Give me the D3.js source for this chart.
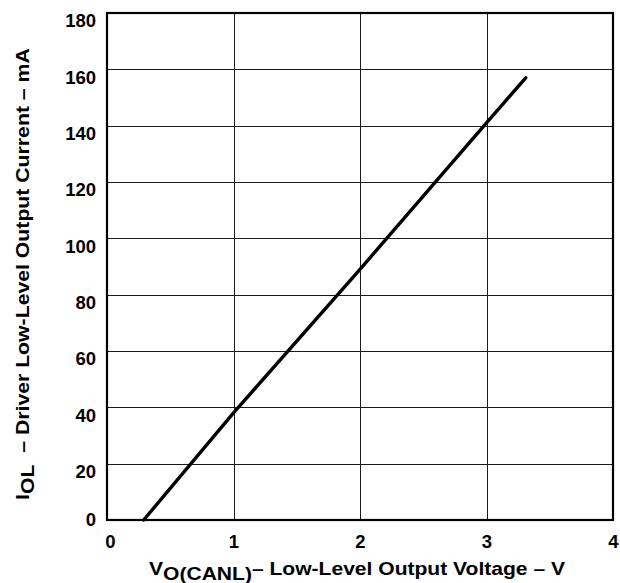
<!DOCTYPE html>
<html>
<head>
<meta charset="utf-8">
<script src="https://cdn.jsdelivr.net/npm/d3@7"></script>
<style>
  html, body { margin: 0; padding: 0; background: #fff; }
  svg { display: block; }
  text { font-family: "Liberation Sans", Arial, Helvetica, sans-serif; font-weight: bold; fill: #000; }
</style>
</head>
<body>
<svg id="chart" width="620" height="583"></svg>
<script>
// ---- data ----
const voltage = [0.29, 1.0, 2.0, 3.0, 3.31];        // V_O(CANL), V
const current = [0, 38, 89, 141, 157];              // I_OL, mA
const xTicks = [0, 1, 2, 3, 4];
const yTicks = [0, 20, 40, 60, 80, 100, 120, 140, 160, 180];
const xDomain = [0, 4];
const yDomain = [0, 180];

// ---- layout ----
const svg = d3.select("#chart");
const pLeft = 107, pRight = 613, pTop = 13, pBottom = 520;

const x = d3.scaleLinear().domain(xDomain).range([pLeft, pRight]);
const y = d3.scaleLinear().domain(yDomain).range([pBottom, pTop]);

// grid
const grid = svg.append("g");
grid.selectAll("line.v").data(xTicks.slice(1, -1)).join("line")
  .attr("x1", d => Math.round(x(d)) + 0.5).attr("x2", d => Math.round(x(d)) + 0.5)
  .attr("y1", pTop).attr("y2", pBottom)
  .attr("stroke", "#1a1a1a").attr("stroke-width", 1);
grid.selectAll("line.h").data(yTicks.slice(1, -1)).join("line")
  .attr("y1", d => Math.round(y(d)) + 0.5).attr("y2", d => Math.round(y(d)) + 0.5)
  .attr("x1", pLeft).attr("x2", pRight)
  .attr("stroke", "#1a1a1a").attr("stroke-width", 1);

// frame
svg.append("rect")
  .attr("x", pLeft).attr("y", pTop)
  .attr("width", pRight - pLeft).attr("height", pBottom - pTop)
  .attr("fill", "none").attr("stroke", "#000").attr("stroke-width", 2.2);

// axes labels via d3 axes (no domain / tick lines)
const yAxis = svg.append("g")
  .attr("transform", `translate(${pLeft},0)`)
  .call(d3.axisLeft(y).tickValues(yTicks).tickSize(0).tickPadding(11).tickFormat(d3.format("d")));
yAxis.select(".domain").remove();
yAxis.selectAll("text")
  .attr("font-size", 18.5)
  .attr("font-family", "Liberation Sans, Arial, sans-serif")
  .attr("font-weight", "bold")
  .attr("dy", d => d === 0 ? "0.3em" : "0.75em");

const xAxis = svg.append("g")
  .attr("transform", `translate(0,${pBottom})`)
  .call(d3.axisBottom(x).tickValues(xTicks).tickSize(0).tickPadding(15).tickFormat(d3.format("d")));
xAxis.select(".domain").remove();
xAxis.selectAll("text")
  .attr("font-size", 18.5)
  .attr("font-family", "Liberation Sans, Arial, sans-serif")
  .attr("font-weight", "bold")
  .attr("dx", d => d === 0 ? 3 : 0);

// data line
const pts = voltage.map((v, i) => [v, current[i]]);
svg.append("path")
  .datum(pts)
  .attr("d", d3.line().x(d => x(d[0])).y(d => y(d[1])))
  .attr("fill", "none").attr("stroke", "#000")
  .attr("stroke-width", 3.4).attr("stroke-linecap", "round");

// titles, stretched horizontally to the reference width
function stretch(g, startX, startY, targetLen, rotate) {
  const t = g.select("text").node();
  const w = t.getBBox().width || targetLen;
  const s = targetLen / w;
  if (rotate) g.attr("transform", `translate(${startX},${startY}) rotate(-90) scale(${s},1)`);
  else g.attr("transform", `translate(${startX},${startY}) scale(${s},1)`);
}

const xt = svg.append("g");
const xtext = xt.append("text").attr("font-size", 18.5).attr("x", 0).attr("y", 0);
xtext.append("tspan").text("V");
xtext.append("tspan").attr("dy", 5).text("O(CANL)");
xtext.append("tspan").attr("dy", -5).text("– Low-Level Output Voltage – V");
stretch(xt, 149, 575, 417, false);

const yt = svg.append("g");
const ytext = yt.append("text").attr("font-size", 18.5).attr("x", 0).attr("y", 0);
ytext.append("tspan").text("I");
ytext.append("tspan").attr("dy", 5).text("OL");
ytext.append("tspan").attr("dy", -5).attr("xml:space", "preserve").text("\u00a0\u00a0– Driver Low-Level Output Current – mA");
stretch(yt, 29, 500, 452, true);
</script>
</body>
</html>
